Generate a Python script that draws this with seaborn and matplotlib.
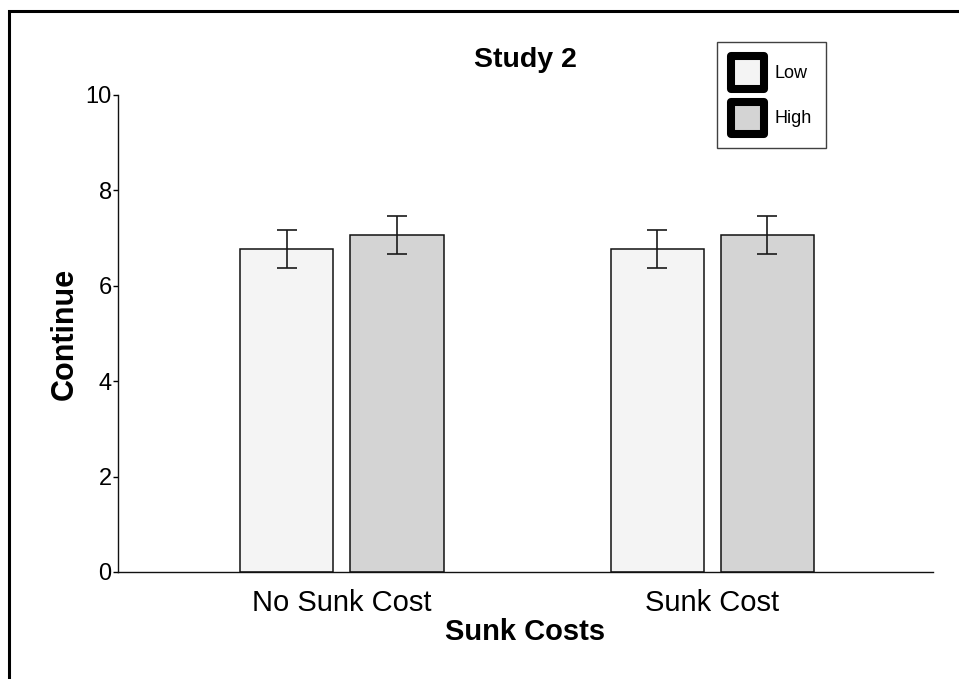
import numpy as np
import pandas as pd
import matplotlib
matplotlib.use("Agg")
import matplotlib.pyplot as plt
from matplotlib.patches import Rectangle
import seaborn as sns

# data
sunk_costs = ["No Sunk Cost", "Sunk Cost"]
levels = ["Low", "High"]
low_means = [6.78, 6.78]
high_means = [7.06, 7.06]
low_err = [0.40, 0.40]
high_err = [0.40, 0.40]
bar_colors = {"Low": "#f4f4f4", "High": "#d4d4d4"}

df = pd.DataFrame({
    "Sunk Costs": sunk_costs * 2,
    "Level": ["Low"] * 2 + ["High"] * 2,
    "Continue": low_means + high_means,
})
errs = {"Low": low_err, "High": high_err}

sns.set_style("white")
plt.rcParams["font.family"] = ["Liberation Sans", "DejaVu Sans"]
plt.rcParams["text.color"] = "black"
plt.rcParams["axes.labelcolor"] = "black"
plt.rcParams["xtick.color"] = "black"
plt.rcParams["ytick.color"] = "black"

fig = plt.figure(figsize=(9.59, 6.79), dpi=100)
ax = fig.add_axes([0.123, 0.1576, 0.850, 0.7025])

sns.barplot(data=df, x="Sunk Costs", y="Continue", hue="Level",
            hue_order=levels, order=sunk_costs, palette=bar_colors,
            errorbar=None, width=0.595, gap=0.155,
            edgecolor="#111111", linewidth=1.1, ax=ax)

# error bars on top of each bar
for cont, lev in zip(ax.containers, levels):
    for bar, e in zip(cont, errs[lev]):
        xc = bar.get_x() + bar.get_width() / 2
        ax.errorbar(xc, bar.get_height(), yerr=e, color="#1a1a1a",
                    elinewidth=1.2, capsize=7, capthick=1.2, zorder=5)

ax.set_xlim(-0.605, 1.597)
ax.set_ylim(0, 10)
ax.set_yticks([0, 2, 4, 6, 8, 10])
ax.spines["top"].set_visible(False)
ax.spines["right"].set_visible(False)
for s in ["left", "bottom"]:
    ax.spines[s].set_color("#111111")
    ax.spines[s].set_linewidth(1.0)

ax.tick_params(axis="y", labelsize=17, length=3.5, width=1.0, pad=1,
               left=True, colors="black")
ax.tick_params(axis="x", labelsize=21, length=0, pad=12, colors="black")
ax.set_xlabel("Sunk Costs", fontsize=21, fontweight="bold", labelpad=1)
ax.set_ylabel("Continue", fontsize=22, fontweight="bold", labelpad=4)
ax.set_title("Study 2", fontsize=20.5, fontweight="bold", pad=20)

handles, labels = ax.get_legend_handles_labels()
ax.get_legend().remove()
leg = ax.legend(handles, labels, loc="upper left",
                bbox_to_anchor=(717 / 959, 1 - 42 / 679),
                bbox_transform=fig.transFigure, borderaxespad=0,
                fontsize=13, handlelength=1.8, handleheight=2.36,
                labelspacing=0.72, handletextpad=0.6, borderpad=0.8,
                fancybox=False, frameon=True)
leg.get_frame().set_edgecolor("#111111")
leg.get_frame().set_linewidth(1.0)
for p in leg.get_patches():
    p.set_linewidth(5.8)
    p.set_edgecolor("black")
    p.set_joinstyle("round")

# border of the original screenshot (only top and left visible)
fig.patches.append(Rectangle((9 / 959, -1), 2, 2 - 11 / 679,
                             transform=fig.transFigure, fill=False,
                             edgecolor="black", linewidth=2.2))

fig.savefig("out.png", dpi=100)
